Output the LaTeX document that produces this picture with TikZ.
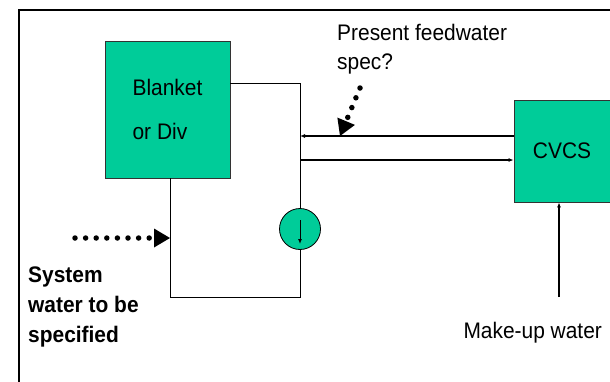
\documentclass[tikz,border=0pt]{standalone}
\usepackage{fontspec}
\setmainfont{Liberation Sans}[FakeStretch=0.93]
\usetikzlibrary{arrows.meta,positioning,calc}
\definecolor{coolant}{HTML}{00CC99}

\begin{document}
\begin{tikzpicture}[
    x=1pt, y=-1pt,
    every node/.style={font=\fontsize{22.5}{25}\selectfont},
    unit/.style={draw=black!80, fill=coolant, line width=0.8pt, inner sep=0pt, align=left},
    pipe/.style={line width=0.8pt},
    flow/.style={line width=1.2pt, -{Latex[length=5pt,width=4pt]}},
    hint/.style={line width=5.5pt, line cap=round, dash pattern=on 0pt off 10.6pt, -{Triangle[length=16pt,width=19pt,line width=0pt]}},
    ]
    \useasboundingbox (0,0) rectangle (610,381);
    \draw[line width=2pt] (19,400) -- (19,10) -- (630,10);

    \node at(167.5,109.5) [unit, minimum width=125pt, minimum height=137pt, font=\fontsize{22.5}{44}\selectfont](blanket){Blanket\\or Div};
    \node at(562,151) [unit, minimum width=96pt, minimum height=102pt](cvcs){CVCS};
    \node at(300,229) [unit, circle, draw=black, minimum size=41pt](pump){};
    \draw[flow, line width=1pt] ([yshift=9pt]pump.center) -- ([yshift=-15pt]pump.center);

    \draw[pipe] ([yshift=26.5pt]blanket.east) -| (pump.north);
    \coordinate (corner) at (300,297);
    \draw[pipe] (pump.south) -- (corner) -| ([xshift=2.5pt]blanket.south);

    \coordinate (ret) at ([yshift=15pt]cvcs.west);
    \coordinate (sup) at ([yshift=-9pt]cvcs.west);
    \draw[flow] (ret) -- (ret -| pump);
    \draw[flow] (sup -| pump) -- (sup);

    \coordinate (makeup) at (559,297);
    \draw[flow] (makeup) -- (makeup |- cvcs.south);
    \node at(460,338) [anchor=base west](mu){Make-up water};

    \node at(337,23.7) [anchor=north west, align=left, inner sep=0pt, font=\fontsize{22.5}{29}\selectfont](spec){Present feedwater\\spec?};
    \coordinate (specdot) at (360,88);
    \draw[hint] (specdot) -- (340,136);

    \node at(28,266.7) [anchor=north west, align=left, inner sep=0pt, font=\bfseries\fontsize{22.5}{30}\selectfont](sys){System\\water to be\\specified};
    \coordinate (sysdot) at (75,238);
    \draw[hint] (sysdot) -- (170,238);
\end{tikzpicture}
\end{document}
